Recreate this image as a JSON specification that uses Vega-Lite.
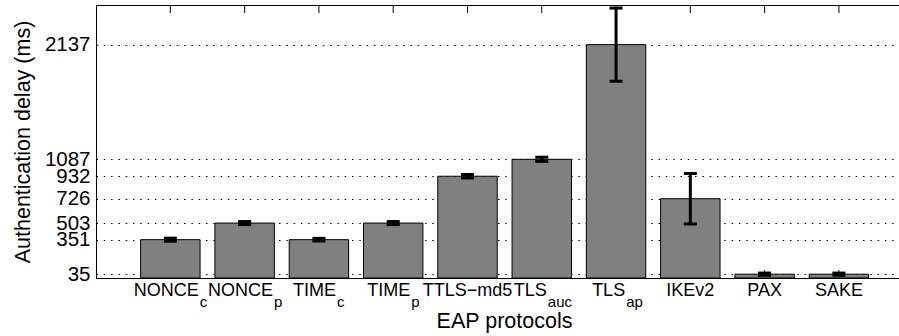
{
  "$schema": "https://vega.github.io/schema/vega-lite/v6.json",
  "width": 803,
  "height": 273,
  "autosize": {"type": "none"},
  "padding": {"left": 96, "top": 5, "right": 0, "bottom": 58},
  "config": {
    "font": "Liberation Sans",
    "view": {"stroke": "black", "strokeWidth": 1},
    "axis": {"domainColor": "black", "tickColor": "black", "labelColor": "black", "titleColor": "black", "titleFontWeight": "normal"}
  },
  "data": {
    "values": [
      {"label": "NONCE_c", "main": "NONCE", "sub": "c", "value": 351, "lo": 337, "hi": 365},
      {"label": "NONCE_p", "main": "NONCE", "sub": "p", "value": 503, "lo": 489, "hi": 517},
      {"label": "TIME_c", "main": "TIME", "sub": "c", "value": 351, "lo": 339, "hi": 363},
      {"label": "TIME_p", "main": "TIME", "sub": "p", "value": 503, "lo": 489, "hi": 517},
      {"label": "TTLS-md5", "main": "TTLS−md5", "sub": "", "value": 932, "lo": 916, "hi": 948},
      {"label": "TLS_auc", "main": "TLS", "sub": "auc", "value": 1087, "lo": 1068, "hi": 1106},
      {"label": "TLS_ap", "main": "TLS", "sub": "ap", "value": 2137, "lo": 1802, "hi": 2472},
      {"label": "IKEv2", "main": "IKEv2", "sub": "", "value": 726, "lo": 495, "hi": 957},
      {"label": "PAX", "main": "PAX", "sub": "", "value": 35, "lo": 25, "hi": 45},
      {"label": "SAKE", "main": "SAKE", "sub": "", "value": 35, "lo": 25, "hi": 45}
    ]
  },
  "resolve": {"axis": {"x": "independent", "y": "independent"}},
  "layer": [
    {
      "mark": {"type": "tick", "orient": "vertical", "size": 8, "thickness": 1, "color": "black", "opacity": 1, "yOffset": -4},
      "encoding": {
        "x": {"field": "label", "type": "nominal", "sort": null, "axis": null},
        "y": {"datum": 0, "type": "quantitative", "axis": null}
      }
    },
    {
      "mark": {"type": "bar", "fill": "#808080", "stroke": "black", "strokeWidth": 1},
      "encoding": {
        "x": {
          "field": "label", "type": "nominal", "sort": null,
          "scale": {"paddingInner": 0.2, "paddingOuter": 0.505, "align": 0.595},
          "axis": {"orient": "bottom", "labels": false, "ticks": false, "grid": false,
            "title": "EAP protocols", "titleFontSize": 21.5, "titleX": 408, "titleY": 49,
            "titleBaseline": "alphabetic", "titleAlign": "center", "titleAnchor": null}
        },
        "y": {
          "field": "value", "type": "quantitative",
          "scale": {"domain": [0, 2500], "nice": false, "zero": true},
          "axis": {
            "values": [35, 351, 503, 726, 932, 1087, 2137], "format": "d",
            "title": "Authentication delay (ms)", "titleFontSize": 21.5,
            "titleX": -67, "titleY": 136.5, "titleAngle": 270, "titleBaseline": "alphabetic", "titleAlign": "center",
            "labelFontSize": 20.5, "labelPadding": 6, "ticks": false, "labelOverlap": false, "labelFlush": false,
            "grid": true, "gridColor": "#000", "gridOpacity": 1, "gridDash": [1.5, 5.8], "gridWidth": 1
          }
        }
      }
    },
    {
      "mark": {"type": "tick", "orient": "vertical", "size": 8, "thickness": 1, "color": "black", "opacity": 1, "yOffset": 4},
      "encoding": {
        "x": {"field": "label", "type": "nominal", "sort": null, "axis": null},
        "y": {"datum": 2500, "type": "quantitative", "axis": null}
      }
    },
    {
      "mark": {"type": "rule", "strokeWidth": 3, "color": "black"},
      "encoding": {
        "x": {"field": "label", "type": "nominal", "sort": null, "axis": null},
        "y": {"field": "lo", "type": "quantitative", "axis": null},
        "y2": {"field": "hi"}
      }
    },
    {
      "mark": {"type": "tick", "orient": "horizontal", "size": 13, "thickness": 3, "color": "black", "opacity": 1},
      "encoding": {
        "x": {"field": "label", "type": "nominal", "sort": null, "axis": null},
        "y": {"field": "lo", "type": "quantitative", "axis": null}
      }
    },
    {
      "mark": {"type": "tick", "orient": "horizontal", "size": 13, "thickness": 3, "color": "black", "opacity": 1},
      "encoding": {
        "x": {"field": "label", "type": "nominal", "sort": null, "axis": null},
        "y": {"field": "hi", "type": "quantitative", "axis": null}
      }
    },
    {
      "transform": [
        {"calculate": "18*(0.72*length(datum.main) - 0.44*(length(datum.main)-length(replace(datum.main, regexp('I','g'), ''))) - 0.15*(length(datum.main)-length(replace(datum.main, regexp('L','g'), ''))) - 0.1*(length(datum.main)-length(replace(datum.main, regexp('T','g'), ''))))", "as": "mw"},
        {"calculate": "15*0.54*length(datum.sub)", "as": "sw"}
      ],
      "mark": {"type": "text", "baseline": "alphabetic", "fontSize": 18, "dy": 17.5, "color": "black",
        "align": {"expr": "datum.sub ? 'right' : 'center'"},
        "dx": {"expr": "datum.sub ? (datum.mw - datum.sw)/2 : 0"}},
      "encoding": {
        "x": {"field": "label", "type": "nominal", "sort": null, "axis": null},
        "y": {"datum": 0, "type": "quantitative", "axis": null},
        "text": {"field": "main"}
      }
    },
    {
      "transform": [
        {"filter": "datum.sub != ''"},
        {"calculate": "18*(0.72*length(datum.main) - 0.44*(length(datum.main)-length(replace(datum.main, regexp('I','g'), ''))) - 0.15*(length(datum.main)-length(replace(datum.main, regexp('L','g'), ''))) - 0.1*(length(datum.main)-length(replace(datum.main, regexp('T','g'), ''))))", "as": "mw"},
        {"calculate": "15*0.54*length(datum.sub)", "as": "sw"}
      ],
      "mark": {"type": "text", "baseline": "alphabetic", "fontSize": 15, "dy": 28.5, "color": "black", "align": "left",
        "dx": {"expr": "(datum.mw - datum.sw)/2 + 1"}},
      "encoding": {
        "x": {"field": "label", "type": "nominal", "sort": null, "axis": null},
        "y": {"datum": 0, "type": "quantitative", "axis": null},
        "text": {"field": "sub"}
      }
    }
  ]
}
